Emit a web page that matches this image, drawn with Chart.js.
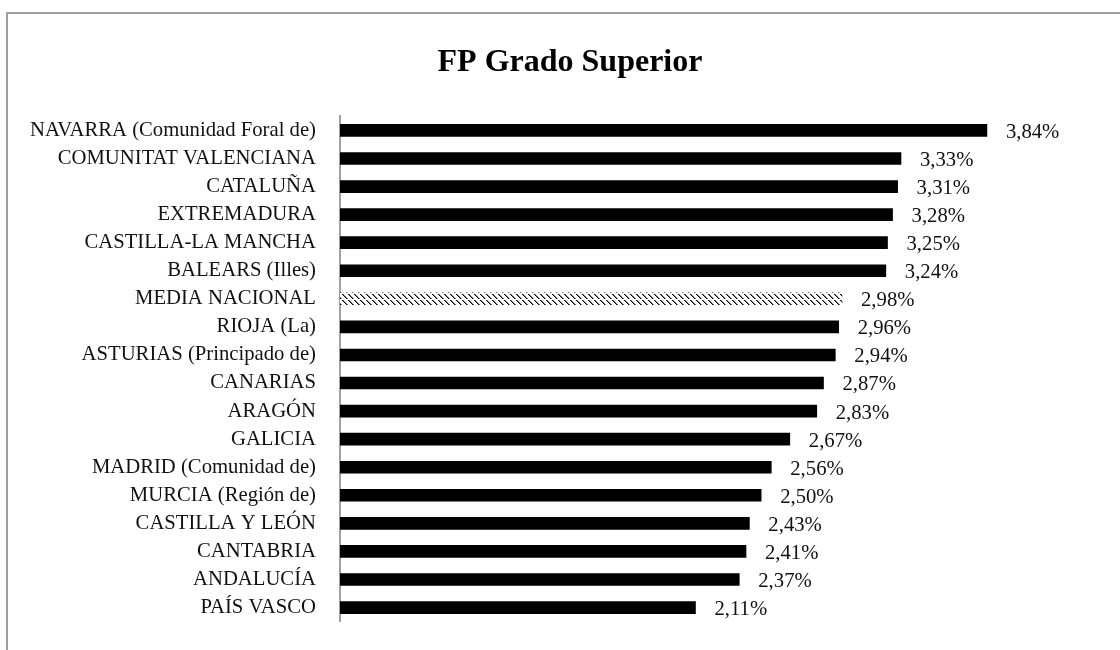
<!DOCTYPE html>
<html lang="es">
<head>
  <meta charset="UTF-8">
  <title>FP Grado Superior</title>
  <script src="https://cdn.jsdelivr.net/npm/chart.js"></script>
  <style>
    html, body { margin: 0; padding: 0; background: #fff; overflow: hidden; }
    #frame {
      position: absolute; left: 6px; top: 12px;
      width: 1300px; height: 800px;
      border: 2px solid #9e9e9e; box-sizing: border-box;
    }
    #wrap { position: absolute; left: 0; top: 0; width: 1120px; height: 650px; }
  </style>
</head>
<body>
  <div id="frame"></div>
  <div id="wrap"><canvas id="chart" width="1120" height="650"></canvas></div>

  <script>
    const regiones = [
      'NAVARRA (Comunidad Foral de)', 'COMUNITAT VALENCIANA', 'CATALUÑA', 'EXTREMADURA',
      'CASTILLA-LA MANCHA', 'BALEARS (Illes)', 'MEDIA NACIONAL', 'RIOJA (La)',
      'ASTURIAS (Principado de)', 'CANARIAS', 'ARAGÓN', 'GALICIA',
      'MADRID (Comunidad de)', 'MURCIA (Región de)', 'CASTILLA Y LEÓN', 'CANTABRIA',
      'ANDALUCÍA', 'PAÍS VASCO'
    ];
    const porcentajes = [3.84, 3.33, 3.31, 3.28, 3.25, 3.24, 2.98, 2.96, 2.94, 2.87, 2.83, 2.67, 2.56, 2.50, 2.43, 2.41, 2.37, 2.11];

    const fuente = "'Liberation Serif', 'Times New Roman', serif";

    // trama diagonal para la media nacional
    function trama() {
      const c = document.createElement('canvas');
      c.width = 6; c.height = 6;
      const g = c.getContext('2d');
      g.fillStyle = '#fff';
      g.fillRect(0, 0, 6, 6);
      g.fillStyle = '#000';
      for (let i = 0; i < 5; i++) g.fillRect(i, i, 1.5, 1);
      return g.createPattern(c, 'repeat');
    }
    const patron = trama();
    const colores = regiones.map(r => r === 'MEDIA NACIONAL' ? patron : '#000');

    const etiquetas = {
      id: 'etiquetas',
      afterDatasetsDraw(chart) {
        const ctx = chart.ctx;
        const meta = chart.getDatasetMeta(0);
        ctx.save();
        ctx.font = '20.7px ' + fuente;
        ctx.fillStyle = '#111';
        ctx.textBaseline = 'middle';
        ctx.textAlign = 'left';
        meta.data.forEach((bar, i) => {
          const txt = porcentajes[i].toFixed(2).replace('.', ',') + '%';
          ctx.fillText(txt, bar.x + 19, bar.y + 2);
        });
        ctx.restore();
      }
    };

    new Chart(document.getElementById('chart'), {
      type: 'bar',
      data: {
        labels: regiones,
        datasets: [{
          data: porcentajes,
          backgroundColor: colores,
          borderWidth: 0,
          barThickness: 12
        }]
      },
      options: {
        indexAxis: 'y',
        responsive: false,
        animation: false,
        layout: { padding: { left: 20, right: 0, top: 0, bottom: 28 } },
        plugins: {
          legend: { display: false },
          tooltip: { enabled: false },
          title: {
            display: true,
            text: 'FP Grado Superior',
            color: '#000',
            font: { family: fuente, size: 32, weight: 'bold' },
            padding: { top: 44, bottom: 34 }
          }
        },
        scales: {
          x: { display: false, min: 0, max: 4.63 },
          y: {
            afterFit(scale) { scale.width = 320; },
            grid: { display: false },
            border: { display: true, color: '#a0a0a0', width: 2 },
            ticks: {
              color: '#111',
              padding: 16,
              font: { family: fuente, size: 20.7 }
            }
          }
        }
      },
      plugins: [etiquetas]
    });
  </script>
</body>
</html>
